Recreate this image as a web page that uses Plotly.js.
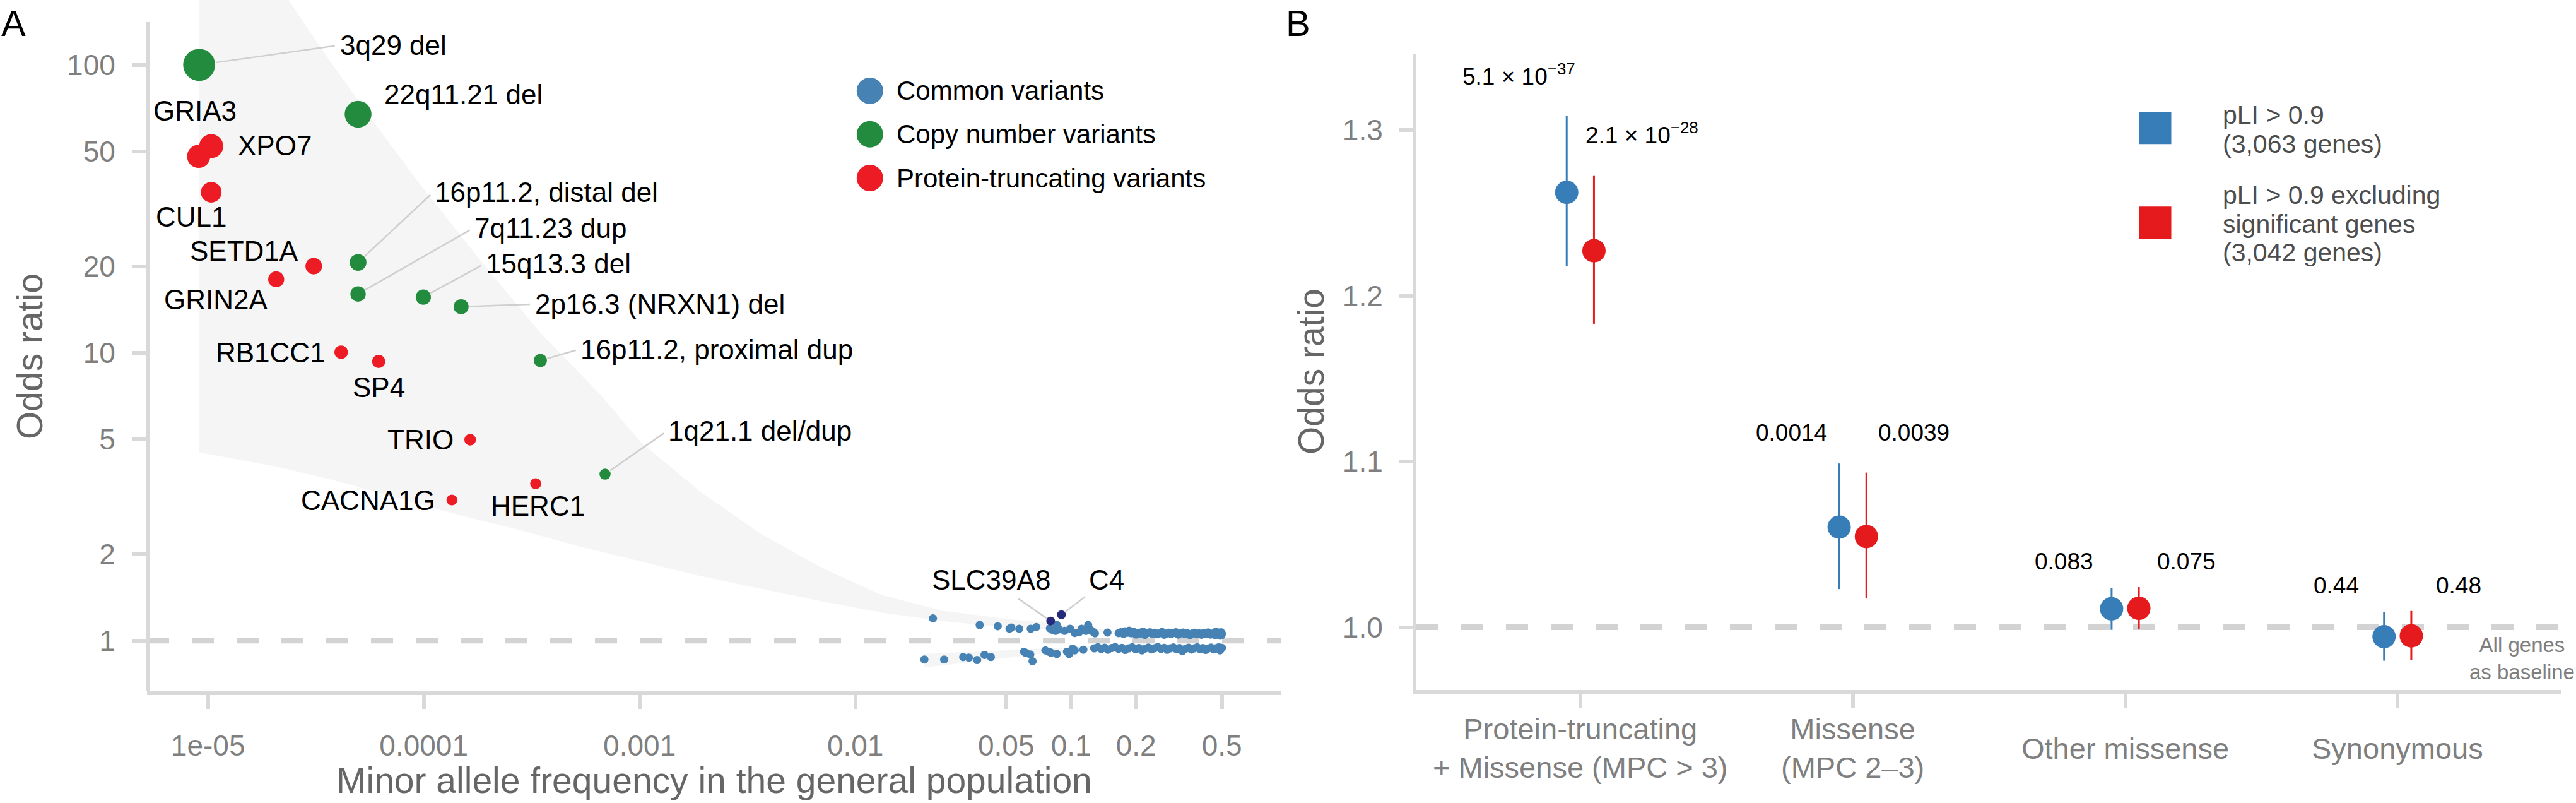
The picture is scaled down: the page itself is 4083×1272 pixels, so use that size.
<!DOCTYPE html>
<html>
<head>
<meta charset="utf-8">
<script src="https://cdn.plot.ly/plotly-3.0.1.min.js"></script>
<style>
html, body { margin: 0; padding: 0; background: #ffffff; }
#chart { width: 4083px; height: 1272px; }
</style>
</head>
<body>
<div id="chart"></div>
<script>
// ================= DATA =================
// ---- Panel A: odds ratio vs minor allele frequency ----
// Common variants (GWAS loci)
const cvMAF = [
  0.0229, 0.0377, 0.0457, 0.0518, 0.0528, 0.0575, 0.0650, 0.0690, 0.0798, 0.0858,
  0.0847, 0.0933, 0.0990, 0.1040, 0.1120, 0.1200, 0.1170, 0.1290, 0.1475, 0.0820,
  0.0880, 0.1090, 0.1230, 0.1260,
  0.166, 0.170, 0.175, 0.178, 0.182, 0.186, 0.190, 0.195, 0.200, 0.205,
  0.210, 0.215, 0.220, 0.226, 0.232, 0.238, 0.244, 0.250, 0.257, 0.264,
  0.270, 0.277, 0.284, 0.291, 0.298, 0.306, 0.314, 0.322, 0.330, 0.338,
  0.346, 0.355, 0.364, 0.373, 0.382, 0.392, 0.402, 0.412, 0.422, 0.432,
  0.443, 0.454, 0.465, 0.476, 0.487, 0.495, 0.498, 0.500, 0.490, 0.470,
  0.0209, 0.0258, 0.0316, 0.0336, 0.0367, 0.0397, 0.0425, 0.0605, 0.0647, 0.0663,
  0.0760, 0.0808, 0.0858, 0.0957, 0.1016, 0.0980, 0.1140, 0.0620, 0.0790, 0.1040,
  0.128, 0.133, 0.138, 0.143, 0.148, 0.154, 0.160, 0.166, 0.172, 0.178,
  0.185, 0.192, 0.199, 0.206, 0.213, 0.220, 0.228, 0.236, 0.244, 0.252,
  0.261, 0.270, 0.279, 0.288, 0.298, 0.308, 0.318, 0.328, 0.339, 0.350,
  0.361, 0.372, 0.384, 0.396, 0.408, 0.420, 0.432, 0.445, 0.458, 0.471,
  0.484, 0.495, 0.500, 0.490
];
const cvOR = [
  1.195, 1.133, 1.122, 1.100, 1.110, 1.100, 1.100, 1.115, 1.103, 1.133,
  1.081, 1.081, 1.100, 1.063, 1.100, 1.133, 1.081, 1.060, 1.067, 1.090,
  1.095, 1.070, 1.090, 1.075,
  1.062, 1.070, 1.055, 1.078, 1.065, 1.083, 1.060, 1.072, 1.050, 1.066,
  1.058, 1.075, 1.047, 1.062, 1.070, 1.055, 1.066, 1.052, 1.060, 1.072,
  1.048, 1.058, 1.066, 1.054, 1.063, 1.070, 1.050, 1.060, 1.067, 1.053,
  1.061, 1.046, 1.058, 1.066, 1.052, 1.060, 1.048, 1.063, 1.055, 1.068,
  1.050, 1.059, 1.046, 1.064, 1.052, 1.070, 1.045, 1.058, 1.040, 1.075,
  0.860, 0.860, 0.877, 0.873, 0.856, 0.892, 0.877, 0.915, 0.895, 0.848,
  0.925, 0.907, 0.899, 0.915, 0.938, 0.899, 0.930, 0.905, 0.915, 0.925,
  0.940, 0.948, 0.935, 0.945, 0.930, 0.942, 0.950, 0.936, 0.944, 0.928,
  0.940, 0.948, 0.934, 0.943, 0.925, 0.938, 0.946, 0.932, 0.941, 0.950,
  0.936, 0.944, 0.929, 0.940, 0.947, 0.933, 0.942, 0.920, 0.937, 0.945,
  0.931, 0.940, 0.948, 0.934, 0.943, 0.928, 0.939, 0.946, 0.932, 0.941,
  0.949, 0.936, 0.944, 0.925
];
// Highlighted common-variant genes
const cvHitLabels = ["SLC39A8", "C4"];
const cvHitMAF = [0.0804, 0.0902];
const cvHitOR = [1.17, 1.23];

// Copy number variants
const cnvLabels = ["3q29 del", "22q11.21 del", "16p11.2, distal del", "7q11.23 dup",
                   "15q13.3 del", "2p16.3 (NRXN1) del", "16p11.2, proximal dup", "1q21.1 del/dup"];
const cnvMAF = [9.1e-6, 4.96e-5, 4.96e-5, 4.96e-5, 9.95e-5, 1.49e-4, 3.47e-4, 6.92e-4];
const cnvOR = [100, 67.4, 20.6, 16.0, 15.6, 14.45, 9.4, 3.79];

// Protein-truncating variants (genes)
const ptvLabels = ["GRIA3", "XPO7", "CUL1", "SETD1A", "GRIN2A", "RB1CC1", "SP4", "TRIO", "HERC1", "CACNA1G"];
const ptvMAF = [9.05e-6, 1.035e-5, 1.035e-5, 3.09e-5, 2.07e-5, 4.14e-5, 6.18e-5, 1.64e-4, 3.30e-4, 1.35e-4];
const ptvOR = [48.1, 52.2, 36.1, 20.0, 18.0, 10.04, 9.33, 4.99, 3.51, 3.08];

// Detectable-effect (power) region boundaries
const bandUpMAF = [1.64e-5, 2.36e-5, 3.55e-5, 5.69e-5, 9.53e-5, 1.815e-4, 3.46e-4, 6.58e-4, 1.011e-3,
                   1.925e-3, 3.67e-3, 6.98e-3, 0.0133, 0.0253, 0.05, 0.08, 0.12, 0.18];
const bandUpOR = [250, 168, 107, 65.2, 38.8, 21.1, 11.75, 7.16, 4.90,
                  3.28, 2.345, 1.792, 1.44, 1.27, 1.19, 1.15, 1.11, 1.07];
const bandLoMAF = [9.06e-6, 2.12e-5, 4.04e-5, 7.69e-5, 1.464e-4, 2.79e-4, 5.31e-4, 1.011e-3,
                   1.925e-3, 3.67e-3, 6.98e-3, 0.0133, 0.0253, 0.05, 0.08, 0.12, 0.18];
const bandLoOR = [4.51, 4.01, 3.57, 3.12, 2.73, 2.42, 2.12, 1.884,
                  1.675, 1.514, 1.37, 1.25, 1.17, 1.11, 1.09, 1.075, 1.07];
const band2TopMAF = [0.0209, 0.05, 0.10, 0.16];
const band2TopOR = [0.900, 0.925, 0.950, 0.962];
const band2BotMAF = [0.0209, 0.05, 0.10, 0.16];
const band2BotOR = [0.807, 0.870, 0.930, 0.962];

// Axis tick labels (panel A)
const xTickVals = [1e-5, 1e-4, 1e-3, 0.01, 0.05, 0.1, 0.2, 0.5];
const xTickText = ["1e-05", "0.0001", "0.001", "0.01", "0.05", "0.1", "0.2", "0.5"];
const yTickVals = [1, 2, 5, 10, 20, 50, 100];
const yTickText = ["1", "2", "5", "10", "20", "50", "100"];
const xTitleA = "Minor allele frequency in the general population";
const yTitle = "Odds ratio";

// ---- Panel B: burden odds ratios ----
const categoriesB = ["Protein-truncating<br>+ Missense (MPC > 3)", "Missense<br>(MPC 2–3)", "Other missense", "Synonymous"];
const pliOR = [1.2624, 1.0604, 1.0111, 0.9943];
const pliLo = [1.2179, 1.0230, 0.9984, 0.9798];
const pliHi = [1.3086, 1.0988, 1.0237, 1.0091];
const exclOR = [1.2272, 1.0547, 1.0114, 0.9948];
const exclLo = [1.1831, 1.0173, 0.9989, 0.9801];
const exclHi = [1.2723, 1.0933, 1.0242, 1.0098];
const pliP = ["5.1 × 10<sup>−37</sup>", "0.0014", "0.083", "0.44"];
const exclP = ["2.1 × 10<sup>−28</sup>", "0.0039", "0.075", "0.48"];
const yTickValsB = [1.0, 1.1, 1.2, 1.3];
const yTickTextB = ["1.0", "1.1", "1.2", "1.3"];
const baselineOR = 1;

// ================= STYLE =================
const FONT = "Liberation Sans, Arial, Helvetica, sans-serif";
const W = 4083, H = 1272;
const colCommon = "#4682b4", colHit = "#262a7c", colCNV = "#238b3e", colPTV = "#ed1c24";
const colPli = "#377eb8", colExcl = "#e41a1c";
const axisGrey = "#d9d9d9", tickGrey = "#7f7f7f", titleGrey = "#666666";
const sizeFor = or => Math.sqrt(220 + 23.5 * or);
const log10 = Math.log10;
const yRangeA = [-0.1759, 2.2254];      // log10 range of panel A y axis (panel reaches the top edge)
const yAxisLineTopA = 2.1487;           // log10 value where the drawn y-axis line stops

// ================= TRACES =================
const traces = [];
// power region shading
traces.push({
  x: [bandLoMAF[0]].concat(bandUpMAF, bandLoMAF.slice().reverse()),
  y: [bandUpOR[0]].concat(bandUpOR, bandLoOR.slice().reverse()),
  xaxis: "x", yaxis: "y", mode: "lines", fill: "toself",
  fillcolor: "#f5f5f5", line: {width: 0, color: "rgba(0,0,0,0)"},
  hoverinfo: "skip", showlegend: false
});
traces.push({
  x: band2TopMAF.concat(band2BotMAF.slice().reverse()),
  y: band2TopOR.concat(band2BotOR.slice().reverse()),
  xaxis: "x", yaxis: "y", mode: "lines", fill: "toself",
  fillcolor: "#f5f5f5", line: {width: 0, color: "rgba(0,0,0,0)"},
  hoverinfo: "skip", showlegend: false
});
traces.push({
  x: cvMAF, y: cvOR, xaxis: "x", yaxis: "y", mode: "markers", type: "scatter",
  name: "Common variants", marker: {color: colCommon, size: 13, opacity: 1, line: {width: 0}}, showlegend: false
});
traces.push({
  x: cvHitMAF, y: cvHitOR, text: cvHitLabels, xaxis: "x", yaxis: "y", mode: "markers",
  name: "Common variants (highlighted)", marker: {color: colHit, size: 14, opacity: 1, line: {width: 0}}, showlegend: false
});
traces.push({
  x: cnvMAF, y: cnvOR, text: cnvLabels, xaxis: "x", yaxis: "y", mode: "markers",
  name: "Copy number variants", marker: {color: colCNV, size: cnvOR.map(sizeFor), opacity: 1, line: {width: 0}}, showlegend: false
});
traces.push({
  x: ptvMAF, y: ptvOR, text: ptvLabels, xaxis: "x", yaxis: "y", mode: "markers",
  name: "Protein-truncating variants", marker: {color: colPTV, size: ptvOR.map(sizeFor), opacity: 1, line: {width: 0}}, showlegend: false
});

// Panel B
const dodge = 0.05;
traces.push({
  x: categoriesB.map((c, i) => i - dodge), y: pliOR, xaxis: "x2", yaxis: "y2", mode: "markers",
  name: "pLI > 0.9 (3,063 genes)",
  marker: {color: colPli, size: 37, opacity: 1, line: {width: 0}},
  error_y: {type: "data", symmetric: false, array: pliHi.map((v, i) => v - pliOR[i]),
            arrayminus: pliOR.map((v, i) => v - pliLo[i]), color: colPli, thickness: 3, width: 0},
  showlegend: false
});
traces.push({
  x: categoriesB.map((c, i) => i + dodge), y: exclOR, xaxis: "x2", yaxis: "y2", mode: "markers",
  name: "pLI > 0.9 excluding significant genes (3,042 genes)",
  marker: {color: colExcl, size: 37, opacity: 1, line: {width: 0}},
  error_y: {type: "data", symmetric: false, array: exclHi.map((v, i) => v - exclOR[i]),
            arrayminus: exclOR.map((v, i) => v - exclLo[i]), color: colExcl, thickness: 3, width: 0},
  showlegend: false
});

// ================= ANNOTATIONS =================
const ann = [];
const labelFont = {family: FONT, size: 44, color: "#000000"};
// label placement (pixel offsets from the point): [dx, dy, xanchor, arrow]
const cnvPlace = [
  [221, -31, "left", true], [39, -31, "left", false], [119, -111, "left", true], [182, -104, "left", true],
  [97, -53, "left", true], [115, -4, "left", true], [62, -18, "left", true], [98, -68, "left", true]
];
const ptvPlace = [
  [-6, -72, "center", false], [40, -1, "left", false], [-31, 39, "center", false], [-110, -24, "center", false],
  [-96, 32, "center", false], [-23, 0, "right", false], [0, 41, "center", false], [-24, 0, "right", false],
  [3, 35, "center", false], [-24, 0, "right", false]
];
const hitPlace = [[-94, -65, "center", true], [72, -55, "center", true]];
function addLabels(labels, mafs, ors, place, sizes) {
  labels.forEach((t, i) => {
    const [dx, dy, xa, arrow] = place[i];
    const a = {text: t, x: log10(mafs[i]), y: log10(ors[i]), xref: "x", yref: "y",
               font: labelFont, xanchor: xa, yanchor: "middle"};
    if (arrow) {
      Object.assign(a, {showarrow: true, ax: dx, ay: dy, axref: "pixel", ayref: "pixel",
        arrowhead: 0, arrowwidth: 2.5, arrowcolor: "#cfcfcf", standoff: sizes[i] / 2 + 1, startstandoff: 6});
    } else {
      Object.assign(a, {showarrow: false, xshift: dx, yshift: -dy});
    }
    ann.push(a);
  });
}
addLabels(cnvLabels, cnvMAF, cnvOR, cnvPlace, cnvOR.map(sizeFor));
addLabels(ptvLabels, ptvMAF, ptvOR, ptvPlace, ptvOR.map(sizeFor));
addLabels(cvHitLabels, cvHitMAF, cvHitOR, hitPlace, [14, 14]);

const shapes = [];
// Panel A legend
const legA = [["Common variants", colCommon], ["Copy number variants", colCNV], ["Protein-truncating variants", colPTV]];
const legAY = [143.9, 212.7, 282.0];
legA.forEach(([t, c], i) => {
  const yp = 1 - legAY[i] / H;
  shapes.push({type: "circle", xref: "paper", yref: "paper", xsizemode: "pixel", ysizemode: "pixel",
    xanchor: 1378.8 / W, yanchor: yp, x0: -21, x1: 21, y0: -21, y1: 21,
    fillcolor: c, line: {width: 0}});
  ann.push({text: t, xref: "paper", yref: "paper", x: 1418.8 / W, y: yp, xanchor: "left", yanchor: "middle",
    showarrow: false, font: {family: FONT, size: 42, color: "#000000"}});
});

// Panel B legend
const legB = [
  [["pLI > 0.9", "(3,063 genes)"], colPli, 202.7, [182.4, 228.0]],
  [["pLI > 0.9 excluding", "significant genes", "(3,042 genes)"], colExcl, 352.7, [309.0, 354.5, 400.0]]
];
legB.forEach(([lines, c, yc, ys]) => {
  shapes.push({type: "rect", xref: "paper", yref: "paper", xsizemode: "pixel", ysizemode: "pixel",
    xanchor: 3416 / W, yanchor: 1 - yc / H, x0: -25.5, x1: 25.5, y0: -25.5, y1: 25.5,
    fillcolor: c, line: {width: 0}});
  lines.forEach((t, j) => ann.push({text: t, xref: "paper", yref: "paper", x: 3521.3 / W, y: 1 - ys[j] / H,
    xanchor: "left", yanchor: "middle", showarrow: false, font: {family: FONT, size: 41, color: "#4d4d4d"}}));
});

// Panel B p-values
const pLabelDodge = 0.225;
const pLabelY = [[1.3335, 1.2979], [1.1173, 1.1173], [1.0397, 1.0397], [1.0250, 1.0250]];
categoriesB.forEach((c, i) => {
  ann.push({text: pliP[i], xref: "x2", yref: "y2", x: i - pLabelDodge, y: pLabelY[i][0], showarrow: false,
    xanchor: "center", yanchor: "middle", font: {family: FONT, size: 37, color: "#000000"}});
  ann.push({text: exclP[i], xref: "x2", yref: "y2", x: i + pLabelDodge, y: pLabelY[i][1], showarrow: false,
    xanchor: "center", yanchor: "middle", font: {family: FONT, size: 37, color: "#000000"}});
  // category tick labels
  ann.push({text: c, xref: "x2", yref: "paper", x: i, y: 1 - 1185 / H, showarrow: false,
    xanchor: "center", yanchor: "middle", align: "center", font: {family: FONT, size: 47, color: tickGrey}});
});
ann.push({text: "All genes<br>as baseline", xref: "x2", yref: "y2", x: 3.4557, y: 0.9811, showarrow: false,
  xanchor: "center", yanchor: "middle", align: "center", font: {family: FONT, size: 33, color: tickGrey}});

// Axis titles
const titleFont = {family: FONT, size: 57, color: titleGrey};
ann.push({text: xTitleA, xref: "x domain", yref: "paper", x: 0.5, y: 1 - 1236 / H, showarrow: false,
  xanchor: "center", yanchor: "middle", font: titleFont});
ann.push({text: yTitle, xref: "paper", yref: "paper", x: 47 / W, y: 1 - 565 / H, textangle: -90, showarrow: false,
  xanchor: "center", yanchor: "middle", font: titleFont});
ann.push({text: yTitle, xref: "paper", yref: "y2 domain", x: 2078 / W, y: 0.5, textangle: -90, showarrow: false,
  xanchor: "center", yanchor: "middle", font: titleFont});

// Panel letters
ann.push({text: "A", xref: "paper", yref: "paper", x: 0, y: 1 - 2 / H, xanchor: "left", yanchor: "top",
  showarrow: false, font: {family: FONT, size: 58, color: "#000000"}});
ann.push({text: "B", xref: "paper", yref: "paper", x: 2036 / W, y: 1 - 2 / H, xanchor: "left", yanchor: "top",
  showarrow: false, font: {family: FONT, size: 58, color: "#000000"}});

// Panel A y-axis line (capped below the top of the panel); shapes on log axes take data values
shapes.push({type: "line", xref: "paper", yref: "y", x0: 235 / W, x1: 235 / W,
  y0: Math.pow(10, yRangeA[0]), y1: Math.pow(10, yAxisLineTopA),
  line: {color: axisGrey, width: 6}});
// Reference lines at OR = 1
shapes.push({type: "line", xref: "x domain", yref: "y", x0: 0, x1: 1, y0: baselineOR, y1: baselineOR, layer: "below",
  line: {color: "#d3d3d3", width: 9, dash: "35px,36px"}});
shapes.push({type: "line", xref: "x2 domain", yref: "y2", x0: 0, x1: 1, y0: baselineOR, y1: baselineOR, layer: "below",
  line: {color: "#d3d3d3", width: 9, dash: "35px,36px"}});

// ================= LAYOUT =================
const axisCommon = {
  showgrid: false, zeroline: false, showline: true, linecolor: axisGrey, linewidth: 6,
  ticks: "outside", ticklen: 22, tickwidth: 6, tickcolor: axisGrey,
  tickfont: {family: FONT, size: 46, color: tickGrey}, fixedrange: true
};
const layout = {
  width: W, height: H,
  margin: {l: 0, r: 0, t: 0, b: 0, pad: 0},
  paper_bgcolor: "#ffffff", plot_bgcolor: "rgba(0,0,0,0)",
  font: {family: FONT},
  showlegend: false,
  xaxis: Object.assign({}, axisCommon, {
    type: "log", domain: [233 / W, 2031 / W], range: [-5.2827, -0.0254], anchor: "y",
    tickmode: "array", tickvals: xTickVals, ticktext: xTickText, ticklabelstandoff: 19
  }),
  yaxis: Object.assign({}, axisCommon, {
    type: "log", domain: [1 - 1095 / H, 1], range: yRangeA, anchor: "x", showline: false,
    tickmode: "array", tickvals: yTickVals, ticktext: yTickText, ticklabelstandoff: 18
  }),
  xaxis2: Object.assign({}, axisCommon, {
    type: "linear", domain: [2245 / W, 4059 / W], range: [-0.6017, 3.599], anchor: "y2",
    tickmode: "array", tickvals: [0, 1, 2, 3], showticklabels: false
  }),
  yaxis2: Object.assign({}, axisCommon, {
    type: "linear", domain: [1 - 1093 / H, 1 - 85 / H], range: [0.9621, 1.3461], anchor: "x2",
    tickmode: "array", tickvals: yTickValsB, ticktext: yTickTextB, ticklabelstandoff: 16
  }),
  shapes: shapes,
  annotations: ann
};

Plotly.newPlot("chart", traces, layout, {displayModeBar: false, staticPlot: true});
</script>
</body>
</html>
